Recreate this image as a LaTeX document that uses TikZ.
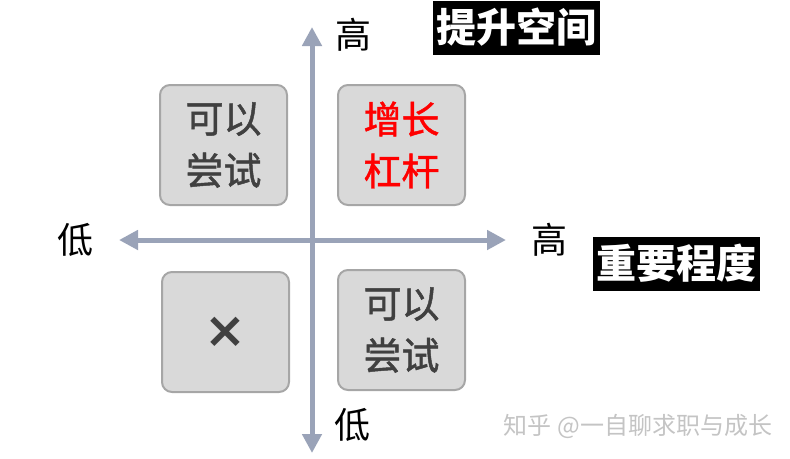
\documentclass[tikz,border=0pt]{standalone}
\usepackage{fontspec}
\newfontfamily\cjk{Noto Sans CJK SC}
\newfontfamily\cjkm[FakeBold=1.2]{Noto Sans CJK SC}
\newfontfamily\xsym{DejaVu Sans}
\usetikzlibrary{arrows.meta}
\definecolor{axisc}{HTML}{9AA3B8}
\definecolor{boxfill}{HTML}{D9D9D9}
\definecolor{boxline}{HTML}{A6A6A6}
\definecolor{boxtext}{HTML}{404040}
\definecolor{wmark}{HTML}{C4C4C4}
\tikzset{
  quad/.style={draw=boxline, line width=2pt, fill=boxfill, rounded corners=10pt,
    minimum width=127pt, minimum height=120pt, inner sep=0pt, align=center,
    text=boxtext, font=\cjkm\fontsize{38}{52}\selectfont},
  axislbl/.style={font=\cjk\fontsize{36}{40}\selectfont, text=black, inner sep=0pt},
  tag/.style={fill=black, text=white, font=\cjk\bfseries\fontsize{40}{44}\selectfont,
    inner sep=0pt, minimum width=167pt, minimum height=54pt},
  axisline/.style={draw=axisc, line width=5pt, {Triangle[width=19pt,length=19pt]}-{Triangle[width=19pt,length=19pt]}}
}
\begin{document}
\begin{tikzpicture}[x=1pt,y=-1pt]
\useasboundingbox (0,0) rectangle (790,458);
\coordinate (vtop) at (312,27);
\coordinate (vbot) at (312,453);
\coordinate (hleft) at (119,240);
\coordinate (hright) at (506,240);
\draw[axisline] (vbot) -- (vtop);
\draw[axisline] (hleft) -- (hright);
\node[quad] (tl) at (223.5,145) {可以\\尝试};
\node[quad, text=red] (tr) at (401.5,145) {增长\\杠杆};
\node[quad] (bl) at (225.5,332) {\xsym\bfseries\fontsize{50}{50}\selectfont ×};
\node[quad] (br) at (401.5,330) {可以\\尝试};
\node[axislbl] (ltop) at (353,35) {高};
\node[axislbl] (lleft) at (75,240) {低};
\node[axislbl] (lright) at (549,240) {高};
\node[axislbl] (lbot) at (352,425) {低};
\node[tag] (t1) at (516,27.5) {提升空间};
\node[tag] (t2) at (676.5,263.5) {重要程度};
\node[font=\cjk\fontsize{24}{26}\selectfont, text=wmark, inner sep=0pt] (wm) at (638,426) {知乎 @一自聊求职与成长};
\end{tikzpicture}
\end{document}
